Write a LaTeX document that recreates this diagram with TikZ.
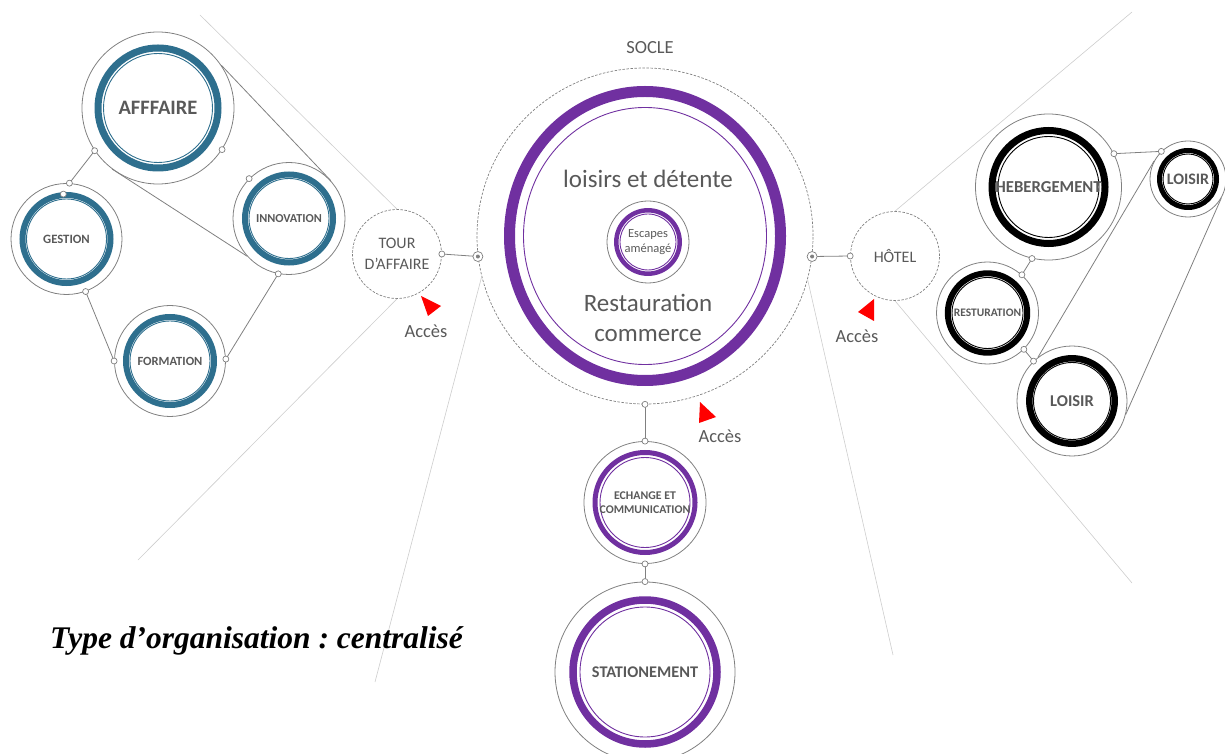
\documentclass[tikz,border=0pt]{standalone}
\usepackage{fontspec}
\setmainfont{Carlito}
\newfontfamily\titlefont{Liberation Serif}
\usetikzlibrary{positioning}

\definecolor{txtgray}{RGB}{89,89,89}
\definecolor{linegray}{RGB}{128,128,128}
\definecolor{faint}{RGB}{205,205,205}
\definecolor{bluering}{RGB}{46,111,142}
\definecolor{purplering}{RGB}{112,48,160}
\definecolor{accesred}{RGB}{255,0,0}

\newcommand{\labelsize}[2]{\fontsize{#1}{#2}\selectfont}
% line between two anchors, with a small port circle at both ends
\newcommand{\joinports}[2]{%
  \draw[link] (#1) -- (#2);
  \draw[port] (#1) circle (3) (#2) circle (3);}

\begin{document}
\frenchspacing
\begin{tikzpicture}[x=1pt, y=1pt,
    unit/.style={circle, draw=linegray, line width=0.8pt, inner sep=0pt, text=txtgray, align=center},
    ringed/.style n args={4}{path picture={
        \draw[#1, line width=#3] (path picture bounding box.center) circle (#2);
        \draw[#1, line width=0.9pt] (path picture bounding box.center) circle (#4);}},
    hub/.style={circle, draw=linegray, dash pattern=on 2.5pt off 1.5pt, line width=0.7pt,
      inner sep=0pt, minimum size=89, text=txtgray, align=center, font=\labelsize{16}{21}},
    link/.style={draw=linegray, line width=0.8pt},
    port/.style={draw=linegray, fill=white, line width=0.7pt},
    fan/.style={draw=faint, line width=0.6pt},
    lbl/.style={text=txtgray, inner sep=0pt}]
  \useasboundingbox (0,0) rectangle (1225,753);

  % Socle
  \node[hub, minimum size=336] (socle) at (645,517) {};
  \draw[purplering, line width=11pt] (socle.center) ellipse (135.5 and 144.5);
  \draw[purplering, line width=0.9pt] (socle.center) ellipse (121.5 and 128.5);
  \node[unit, minimum size=82, ringed={purplering}{31.7}{4.5pt}{28}, font=\labelsize{12.5}{15}]
    (escapes) at (648,511) {Escapes\\aménagé};
  \node[lbl, anchor=base, font=\labelsize{18.5}{20}] (soclelbl) at (650,699) {SOCLE};
  \node[lbl, anchor=base, font=\labelsize{25}{28}] (loisirs) at (648,565) {loisirs et détente};
  \node[lbl, anchor=base, font=\labelsize{25}{28}] (resto) at (648,441) {Restauration};
  \node[lbl, anchor=base, font=\labelsize{25}{28}] (commerce) at (648,411) {commerce};

  % Hubs on both sides
  \node[hub] (tour) at (397,499) {TOUR\\D’AFFAIRE};
  \node[hub] (hotel) at (895,497) {HÔTEL};

  % Left cluster
  \node[unit, minimum size=152, ringed={bluering}{60}{7pt}{54.5}, font=\bfseries\labelsize{20.5}{22}]
    (affaire) at (158,645) {AFFFAIRE};
  \node[unit, minimum size=111, ringed={bluering}{44}{6pt}{40}, font=\bfseries\labelsize{12.7}{14}]
    (gestion) at (66.5,514) {GESTION};
  \node[unit, minimum size=112, ringed={bluering}{44}{6pt}{40}, font=\bfseries\labelsize{12.2}{14}]
    (innovation) at (289,534.5) {INNOVATION};
  \node[unit, minimum size=111, ringed={bluering}{44}{6pt}{40}, font=\bfseries\labelsize{12.5}{14}]
    (formation) at (170,392) {FORMATION};

  % Right cluster
  \node[unit, minimum size=146, ringed={black}{56.5}{7pt}{50.5}, font=\bfseries\labelsize{16.7}{18}]
    (hebergement) at (1048.5,566) {HEBERGEMENT};
  \node[unit, minimum size=76, ringed={black}{28.5}{5pt}{25}, font=\bfseries\labelsize{16}{18}]
    (loisirA) at (1188,574) {LOISIR};
  \node[unit, minimum size=102, ringed={black}{39.7}{6pt}{35.5}, font=\bfseries\labelsize{11.5}{13}]
    (restauration) at (987.5,440) {RESTURATION};
  \node[unit, minimum size=110, ringed={black}{42.7}{6.5pt}{38.5}, font=\bfseries\labelsize{16.5}{18}]
    (loisirB) at (1072,352) {LOISIR};

  % Bottom chain
  \node[unit, minimum size=122, ringed={purplering}{50}{5pt}{45}, font=\bfseries\labelsize{11.8}{13.5}]
    (echange) at (645,250.5) {ECHANGE ET\\COMMUNICATION};
  \node[unit, minimum size=180, ringed={purplering}{72}{7.5pt}{65}, font=\bfseries\labelsize{16.3}{18}]
    (stationnement) at (645,81) {STATIONEMENT};

  % Fan lines
  \coordinate (fanTL) at (200,738);
  \coordinate (fanBL) at (138,193);
  \coordinate (fanSL) at (375,71);
  \coordinate (fanSR) at (893,98);
  \coordinate (fanTR) at (1132,741);
  \coordinate (fanBR) at (1132,170);
  \draw[fan] (tour.north) -- (fanTL);
  \draw[fan] (tour.south) -- (fanBL);
  \draw[fan] (socle.194) -- (fanSL);
  \draw[fan] (socle.345) -- (fanSR);
  \draw[fan] (hotel.north) -- (fanTR);
  \draw[fan] (hotel.south) -- (fanBR);

  % Connectors, left
  \joinports{affaire.214}{gestion.87.5}
  \joinports{gestion.290}{formation.180}
  \joinports{innovation.259}{formation.2}
  \draw[link] (affaire.34) -- (innovation.42);
  \draw[link] (affaire.233) -- (innovation.222);
  \draw[port] (affaire.-33) circle (3) (innovation.135) circle (3);
  \draw[port] ([shift={(94:45)}]gestion.center) circle (3);

  % Connectors, right
  \joinports{hebergement.27.6}{loisirA.134}
  \joinports{hebergement.257}{restauration.48}
  \joinports{restauration.315}{loisirB.134}
  \draw[link] (loisirB.128) -- (loisirA.152);
  \draw[link] (loisirB.-14) -- (loisirA.-30);

  % Connectors, centre
  \joinports{socle.south}{echange.north}
  \joinports{echange.south}{stationnement.north}
  \draw[link] (tour.east) -- (socle.187);
  \draw[link] (hotel.west) -- (socle.-7);
  \draw[port] (tour.east) circle (3) (hotel.west) circle (3);
  \draw[port] (socle.187) circle (5) (socle.-7) circle (5);
  \fill[linegray] (socle.187) circle (2) (socle.-7) circle (2);

  % Acces marks
  \fill[accesred] (421,457) -- (441,447) -- (428,437) -- cycle;
  \fill[accesred] (874,454) -- (858,441) -- (874,432) -- cycle;
  \fill[accesred] (700,351) -- (716,336) -- (699,330) -- cycle;
  \node[lbl, anchor=base, font=\labelsize{18.5}{20}] (accesT) at (426,415) {Accès};
  \node[lbl, anchor=base, font=\labelsize{18.5}{20}] (accesH) at (857,410) {Accès};
  \node[lbl, anchor=base, font=\labelsize{18.5}{20}] (accesS) at (720,311) {Accès};

  \node[anchor=base west, inner sep=0pt, font=\titlefont\bfseries\itshape\labelsize{31.5}{36}]
    (title) at (50,105) {Type d’organisation : centralisé};
\end{tikzpicture}
\end{document}
